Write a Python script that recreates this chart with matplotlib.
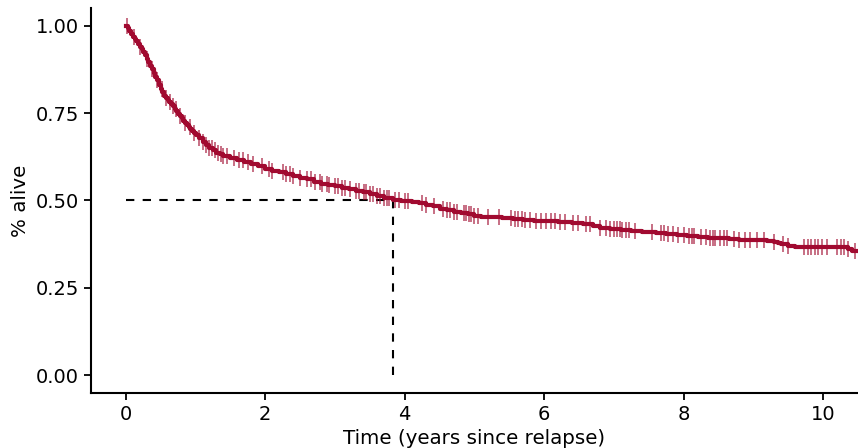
import numpy as np
import matplotlib
matplotlib.use("Agg")
import matplotlib.pyplot as plt

# Kaplan-Meier step knots (time in years, survival fraction)
times = [0.000, 0.025, 0.050, 0.075, 0.100, 0.125, 0.150, 0.175, 0.200, 0.225, 0.250, 0.275,
         0.300, 0.325, 0.350, 0.375, 0.400, 0.425, 0.450, 0.475, 0.500, 0.525, 0.550, 0.575,
         0.600, 0.625, 0.650, 0.675, 0.700, 0.725, 0.750, 0.775, 0.800, 0.825, 0.850, 0.875,
         0.900, 0.925, 0.950, 0.975, 1.00, 1.05, 1.10, 1.15, 1.20, 1.25, 1.30, 1.35,
         1.40, 1.50, 1.60, 1.70, 1.80, 1.90, 2.00, 2.10, 2.20, 2.30, 2.40, 2.50, 2.60, 2.70,
         2.80, 2.90, 3.00, 3.10, 3.20, 3.30, 3.40, 3.50, 3.60, 3.70, 3.83, 3.95, 4.10, 4.20,
         4.30, 4.40, 4.50, 4.60, 4.70, 4.80, 4.90, 5.00, 5.10, 5.25, 5.40, 5.55, 5.70, 5.85,
         6.00, 6.20, 6.40, 6.55, 6.70, 6.80, 6.95, 7.10, 7.25, 7.40, 7.60, 7.75, 7.90, 8.05,
         8.20, 8.35, 8.50, 8.65, 8.80, 9.00, 9.20, 9.30, 9.35, 9.40, 9.50, 9.60, 10.00,
         10.35, 10.42]
surv = [1.000, 0.993, 0.985, 0.976, 0.968, 0.962, 0.955, 0.948, 0.940, 0.932, 0.924, 0.915,
        0.905, 0.895, 0.885, 0.875, 0.865, 0.854, 0.843, 0.831, 0.820, 0.809, 0.800, 0.793,
        0.787, 0.781, 0.775, 0.769, 0.762, 0.755, 0.748, 0.741, 0.735, 0.728, 0.722, 0.716,
        0.710, 0.704, 0.698, 0.693, 0.688, 0.678, 0.668, 0.659,
        0.650, 0.643, 0.637, 0.633, 0.628, 0.622, 0.616, 0.611, 0.605, 0.598, 0.590, 0.585,
        0.580, 0.576, 0.571, 0.565, 0.560, 0.553, 0.548, 0.544, 0.540, 0.536, 0.532, 0.528,
        0.523, 0.518, 0.512, 0.507, 0.500, 0.498, 0.495, 0.492, 0.488, 0.483, 0.477, 0.472,
        0.468, 0.465, 0.461, 0.457, 0.454, 0.452, 0.450, 0.446, 0.443, 0.441, 0.440, 0.438,
        0.435, 0.432, 0.426, 0.421, 0.419, 0.416, 0.412, 0.410, 0.408, 0.404, 0.401, 0.399,
        0.396, 0.394, 0.392, 0.389, 0.387, 0.386, 0.384, 0.382, 0.378, 0.375, 0.371, 0.368,
        0.366, 0.362, 0.355]
t_end = 10.6

# censoring times (years)
censor_times = [0.02, 0.12, 0.2, 0.3, 0.38, 0.45, 0.52, 0.58, 0.63, 0.68, 0.72, 0.78, 0.85,
                0.92, 0.98, 1.05, 1.1, 1.15, 1.2, 1.24, 1.28, 1.32, 1.36, 1.4, 1.45, 1.55,
                1.62, 1.68, 1.75, 1.82, 1.95, 2.05, 2.1, 2.25, 2.3, 2.35, 2.4, 2.5, 2.6,
                2.66, 2.72, 2.78, 2.82, 2.88, 2.92, 3.0, 3.05, 3.1, 3.15, 3.22, 3.3, 3.35,
                3.42, 3.45, 3.5, 3.55, 3.6, 3.65, 3.7, 3.74, 3.78, 3.86, 3.92, 4.0, 4.05,
                4.25, 4.3, 4.42, 4.55, 4.6, 4.65, 4.7, 4.75, 4.85, 4.88, 4.92, 4.95, 5.0,
                5.05, 5.2, 5.35, 5.52, 5.58, 5.62, 5.68, 5.72, 5.8, 5.88, 5.95, 6.02, 6.1,
                6.15, 6.22, 6.3, 6.42, 6.48, 6.6, 6.65, 6.8, 6.88, 6.95, 7.0, 7.05, 7.08,
                7.12, 7.18, 7.22, 7.3, 7.55, 7.68, 7.72, 7.78, 7.85, 7.92, 8.0, 8.08, 8.12,
                8.15, 8.25, 8.32, 8.38, 8.42, 8.45, 8.52, 8.58, 8.62, 8.72, 8.8, 8.88, 8.95,
                9.05, 9.15, 9.3, 9.42, 9.5, 9.72, 9.78, 9.82, 9.88, 9.92, 9.98, 10.05, 10.2,
                10.25, 10.3, 10.35, 10.45]

median_time = 3.83
median_level = 0.5

x_ticks = [0, 2, 4, 6, 8, 10]
y_ticks = [0.0, 0.25, 0.5, 0.75, 1.0]
y_ticklabels = ["0.00", "0.25", "0.50", "0.75", "1.00"]

red = "#A10A30"

fig = plt.figure(figsize=(8.58, 4.48), dpi=100)
ax = fig.add_axes([0.106, 0.123, 0.894, 0.859])

t_arr = np.array(times + [t_end])
s_arr = np.array(surv + [surv[-1]])
ax.step(t_arr, s_arr, where="post", color=red, lw=3.0, zorder=3, solid_joinstyle="round")

# censor marks placed at current survival level (step lookup)
idx = np.searchsorted(np.array(times), np.array(censor_times), side="right") - 1
cs = np.array(surv)[idx]
ax.plot(censor_times, cs, ls="none", marker="|", ms=11, mew=1.1, color=red, alpha=0.75, zorder=4)

ax.plot([0, median_time], [median_level, median_level], ls=(0, (4, 4)), color="black", lw=1.5, zorder=2)
ax.plot([median_time, median_time], [0, median_level], ls=(0, (4, 4)), color="black", lw=1.5, zorder=2)

ax.set_xlim(-0.5, 10.5)
ax.set_ylim(-0.05, 1.05)
ax.set_xticks(x_ticks)
ax.set_yticks(y_ticks)
ax.set_yticklabels(y_ticklabels)
ax.tick_params(labelsize=14, width=1.3, length=5, color="black", labelcolor="black")
for s in ["top", "right"]:
    ax.spines[s].set_visible(False)
for s in ["left", "bottom"]:
    ax.spines[s].set_linewidth(1.5)
ax.set_xlabel("Time (years since relapse)", fontsize=14.3)
ax.set_ylabel("% alive", fontsize=14.3)

fig.savefig("out.png", dpi=100)
